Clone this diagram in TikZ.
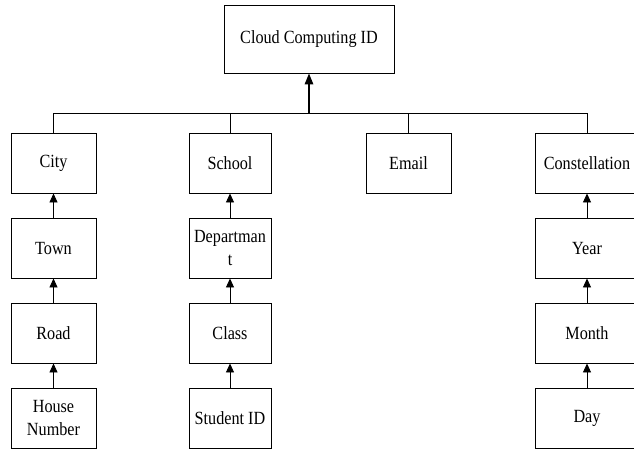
\documentclass[tikz,border=0pt]{standalone}
\usepackage{fontspec}
\setmainfont{Liberation Serif}[FakeStretch=0.87]
\usetikzlibrary{arrows.meta}

\begin{document}
\begin{tikzpicture}[x=1pt,y=-1pt,
  box/.style={draw, line width=0.9pt, minimum width=85pt, minimum height=60pt,
    align=center, inner sep=0pt, font=\fontsize{18.6}{23.5}\selectfont},
  link/.style={line width=0.9pt},
  up/.style={link, -{Triangle[length=9pt,width=8pt]}},
  mainup/.style={line width=1.6pt, -{Triangle[length=11pt,width=8.5pt]}}]
\useasboundingbox (0,0) rectangle (634,451);

% root
\node[box, minimum width=170pt, minimum height=68pt] (root) at (309,39) {Cloud Computing ID};

% address column
\node[box] (city)  at (53.5,163) {City};
\node[box] (town)  at (53.5,248) {Town};
\node[box] (road)  at (53.5,333) {Road};
\node[box] (house) at (53.5,418) {House\\Number};

% school column
\node[box, minimum width=82pt] (school) at (230,163) {School};
\node[box, minimum width=82pt] (dept)   at (230,248) {Departman\\t};
\node[box, minimum width=82pt] (class)  at (230,333) {Class};
\node[box, minimum width=82pt] (sid)    at (230,418) {Student ID};

% email
\node[box] (email) at (408.5,163) {Email};

% date column
\node[box, minimum width=104pt] (cons)  at (587,163) {Constellation};
\node[box, minimum width=104pt] (year)  at (587,248) {Year};
\node[box, minimum width=104pt] (month) at (587,333) {Month};
\node[box, minimum width=104pt] (day)   at (587,418) {Day};

% connecting bar
\coordinate (bar) at (309,113);
\draw[link] (city.north) -- (city.north |- bar) -- (cons.north |- bar) -- (cons.north);
\draw[link] (school.north) -- (school.north |- bar);
\draw[link] (email.north) -- (email.north |- bar);
\draw[mainup] (bar) -- (root.south);

% chains
\draw[up] (town.north) -- (city.south);
\draw[up] (road.north) -- (town.south);
\draw[up] (house.north) -- (road.south);
\draw[up] (dept.north) -- (school.south);
\draw[up] (class.north) -- (dept.south);
\draw[up] (sid.north) -- (class.south);
\draw[up] (year.north) -- (cons.south);
\draw[up] (month.north) -- (year.south);
\draw[up] (day.north) -- (month.south);
\end{tikzpicture}
\end{document}
